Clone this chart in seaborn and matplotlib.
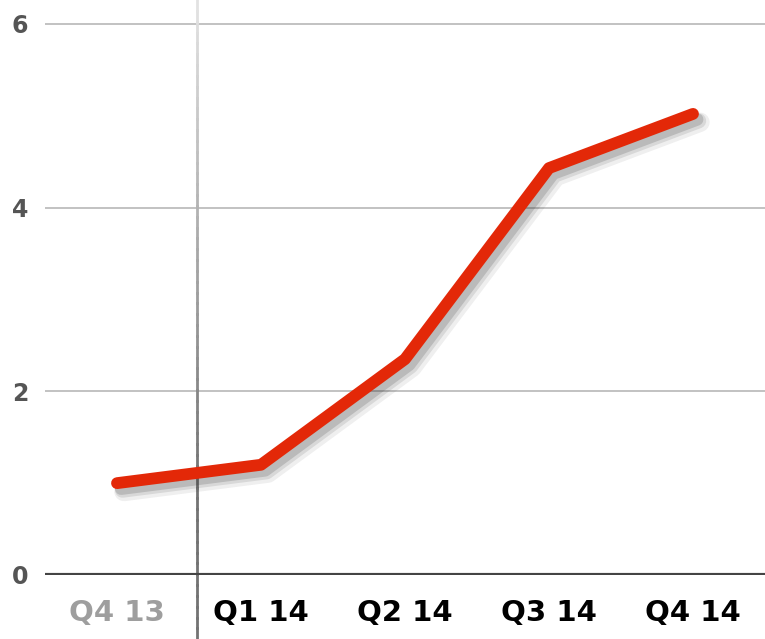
import matplotlib
matplotlib.use("Agg")
import matplotlib.pyplot as plt
import matplotlib.patheffects as pe
import numpy as np
import pandas as pd
import seaborn as sns
from matplotlib.collections import LineCollection

quarters = ["Q4 13", "Q1 14", "Q2 14", "Q3 14", "Q4 14"]
values = [1.0, 1.2, 2.35, 4.43, 5.02]
label_colors = ["#9e9e9e", "black", "black", "black", "black"]
y_ticks = [0, 2, 4, 6]

df = pd.DataFrame({"pos": range(len(quarters)), "value": values})

sns.set_style("white")
plt.rcParams["font.family"] = ["DejaVu Sans"]

fig = plt.figure(figsize=(7.65, 6.39), dpi=100)
ax = fig.add_axes([45 / 765, 64 / 639, 720 / 765, 575 / 639])

# soft drop shadow: a few offset strokes with low alpha
shadow = [pe.SimpleLineShadow(offset=(o, -o - 1), shadow_color="#333333", alpha=a, linewidth=lw)
          for o, a, lw in [(5, 0.08, 14), (4, 0.12, 11), (3, 0.18, 9)]]
sns.lineplot(data=df, x="pos", y="value", ax=ax, color="#e32808", linewidth=8.5,
             solid_capstyle="round", solid_joinstyle="round",
             path_effects=shadow + [pe.Normal()])

ax.set_xlim(-0.5, 4.5)
ax.set_ylim(0, 6.26)

# gridlines
for y in y_ticks[1:]:
    ax.axhline(y, color="#bdbdbd", linewidth=1.3, zorder=0)
ax.axhline(0, color="#444444", linewidth=3, zorder=1)

# separator between last year and this year, fading toward the top
sep_x = 0.555
ys = np.linspace(-0.7, 6.26, 60)
segs = [[(sep_x, ys[i]), (sep_x, ys[i + 1])] for i in range(len(ys) - 1)]
shade = np.clip((ys[:-1] - 1.0) / 5.3, 0, 1)
cols = [(0.45 + 0.45 * s, 0.45 + 0.45 * s, 0.45 + 0.45 * s) for s in shade]
lc = LineCollection(segs, colors=cols, linewidths=2, zorder=0.5, clip_on=False,
                    capstyle="projecting")
ax.add_collection(lc)

ax.set_xticks(range(len(quarters)))
ax.set_xticklabels(quarters, fontsize=21, fontweight="bold")
for lbl, c in zip(ax.get_xticklabels(), label_colors):
    lbl.set_color(c)
ax.set_yticks(y_ticks)
ax.set_yticklabels([str(t) for t in y_ticks], fontsize=17, fontweight="bold", color="#555555")
ax.tick_params(axis="x", length=0, pad=17)
ax.tick_params(axis="y", length=0, pad=12)
ax.set_xlabel("")
ax.set_ylabel("")
sns.despine(ax=ax, left=True, bottom=True, top=True, right=True)

fig.savefig("out.png", dpi=100)
